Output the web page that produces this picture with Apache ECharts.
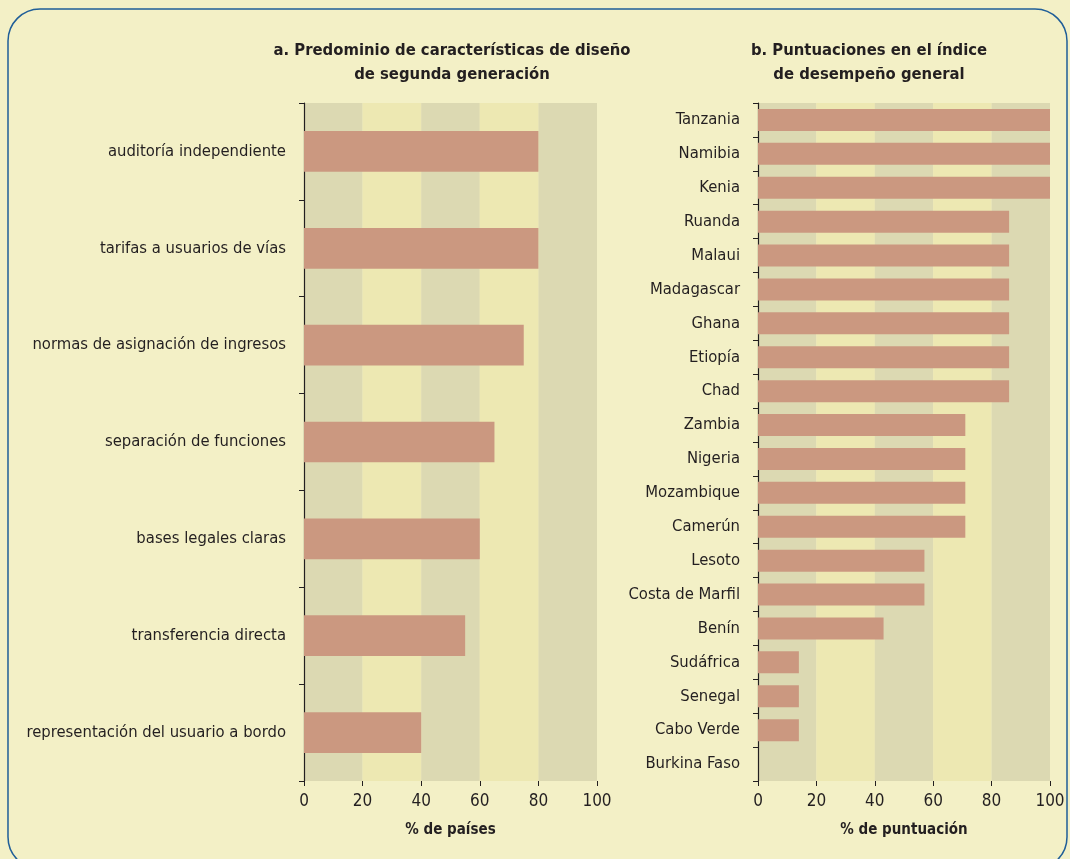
<!DOCTYPE html>
<html>
<head>
<meta charset="utf-8">
<script src="https://cdn.jsdelivr.net/npm/echarts@6/dist/echarts.min.js"></script>
<style>
  html, body { margin: 0; padding: 0; background: #f3f0c6; }
  #chart { width: 1070px; height: 859px; }
</style>
</head>
<body>
<div id="chart"></div>
<script>
// panel a: share of countries with each design feature
const featureNames = [
  'auditoría independiente',
  'tarifas a usuarios de vías',
  'normas de asignación de ingresos',
  'separación de funciones',
  'bases legales claras',
  'transferencia directa',
  'representación del usuario a bordo'
]
const featureValues = [80, 80, 75, 65, 60, 55, 40]

// panel b: overall performance index score
const countryNames = [
  'Tanzania', 'Namibia', 'Kenia', 'Ruanda', 'Malaui', 'Madagascar', 'Ghana',
  'Etiopía', 'Chad', 'Zambia', 'Nigeria', 'Mozambique', 'Camerún', 'Lesoto',
  'Costa de Marfil', 'Benín', 'Sudáfrica', 'Senegal', 'Cabo Verde', 'Burkina Faso'
]
const countryValues = [100, 100, 100, 86, 86, 86, 86, 86, 86, 71, 71, 71, 71, 57, 57, 43, 14, 14, 14, 0]

const xTicks = [0, 20, 40, 60, 80, 100]

const FONT = '"Liberation Sans Narrow", "DejaVu Sans Condensed", sans-serif'
const TXT = '#231f20'
const BAR = '#cb9880'

function xAxisFor(idx, name) {
  return {
    type: 'value', gridIndex: idx, min: xTicks[0], max: xTicks[xTicks.length - 1], interval: 20,
    name: name, nameLocation: 'middle', nameGap: 42,
    nameTextStyle: { fontFamily: FONT, fontSize: 15, fontWeight: 'bold', color: TXT },
    axisLine: { show: false },
    axisTick: { show: true, length: 5, lineStyle: { color: '#231f20' } },
    axisLabel: { fontFamily: FONT, fontSize: 17, color: TXT, margin: 12 },
    splitLine: { show: false },
    splitArea: { show: true, areaStyle: { color: ['#dcd9b2', '#ede8b2'] } }
  }
}

function yAxisFor(idx, cats) {
  return {
    type: 'category', gridIndex: idx, data: cats, inverse: true,
    axisLine: { show: true, lineStyle: { color: '#231f20', width: 1.2 } },
    axisTick: { show: true, length: 5, lineStyle: { color: '#231f20' } },
    axisLabel: { fontFamily: FONT, fontSize: 16.5, color: TXT, margin: 18 }
  }
}

const chart = echarts.init(document.getElementById('chart'))
chart.setOption({
  backgroundColor: '#f3f0c6',
  animation: false,
  title: [
    {
      text: 'a. Predominio de características de diseño\nde segunda generación',
      left: 447, top: 34, textAlign: 'center',
      textStyle: { fontFamily: FONT, fontSize: 16.5, fontWeight: 'bold', color: TXT, lineHeight: 24, align: 'center' }
    },
    {
      text: 'b. Puntuaciones en el índice\nde desempeño general',
      left: 864, top: 34, textAlign: 'center',
      textStyle: { fontFamily: FONT, fontSize: 16.5, fontWeight: 'bold', color: TXT, lineHeight: 24, align: 'center' }
    }
  ],
  graphic: [{
    type: 'rect', silent: true,
    shape: { x: 8, y: 9, width: 1059, height: 860, r: 32 },
    style: { fill: 'none', stroke: '#1f5e98', lineWidth: 1.5 }
  }],
  grid: [
    { left: 304, right: 473, top: 103, bottom: 78 },
    { left: 758, right: 20, top: 103, bottom: 78 }
  ],
  xAxis: [xAxisFor(0, '% de países'), xAxisFor(1, '% de puntuación')],
  yAxis: [yAxisFor(0, featureNames), yAxisFor(1, countryNames)],
  series: [
    {
      type: 'bar', xAxisIndex: 0, yAxisIndex: 0, data: featureValues,
      barWidth: '42%', itemStyle: { color: BAR }
    },
    {
      type: 'bar', xAxisIndex: 1, yAxisIndex: 1, data: countryValues,
      barWidth: '65%', itemStyle: { color: BAR }
    }
  ]
})
</script>
</body>
</html>
